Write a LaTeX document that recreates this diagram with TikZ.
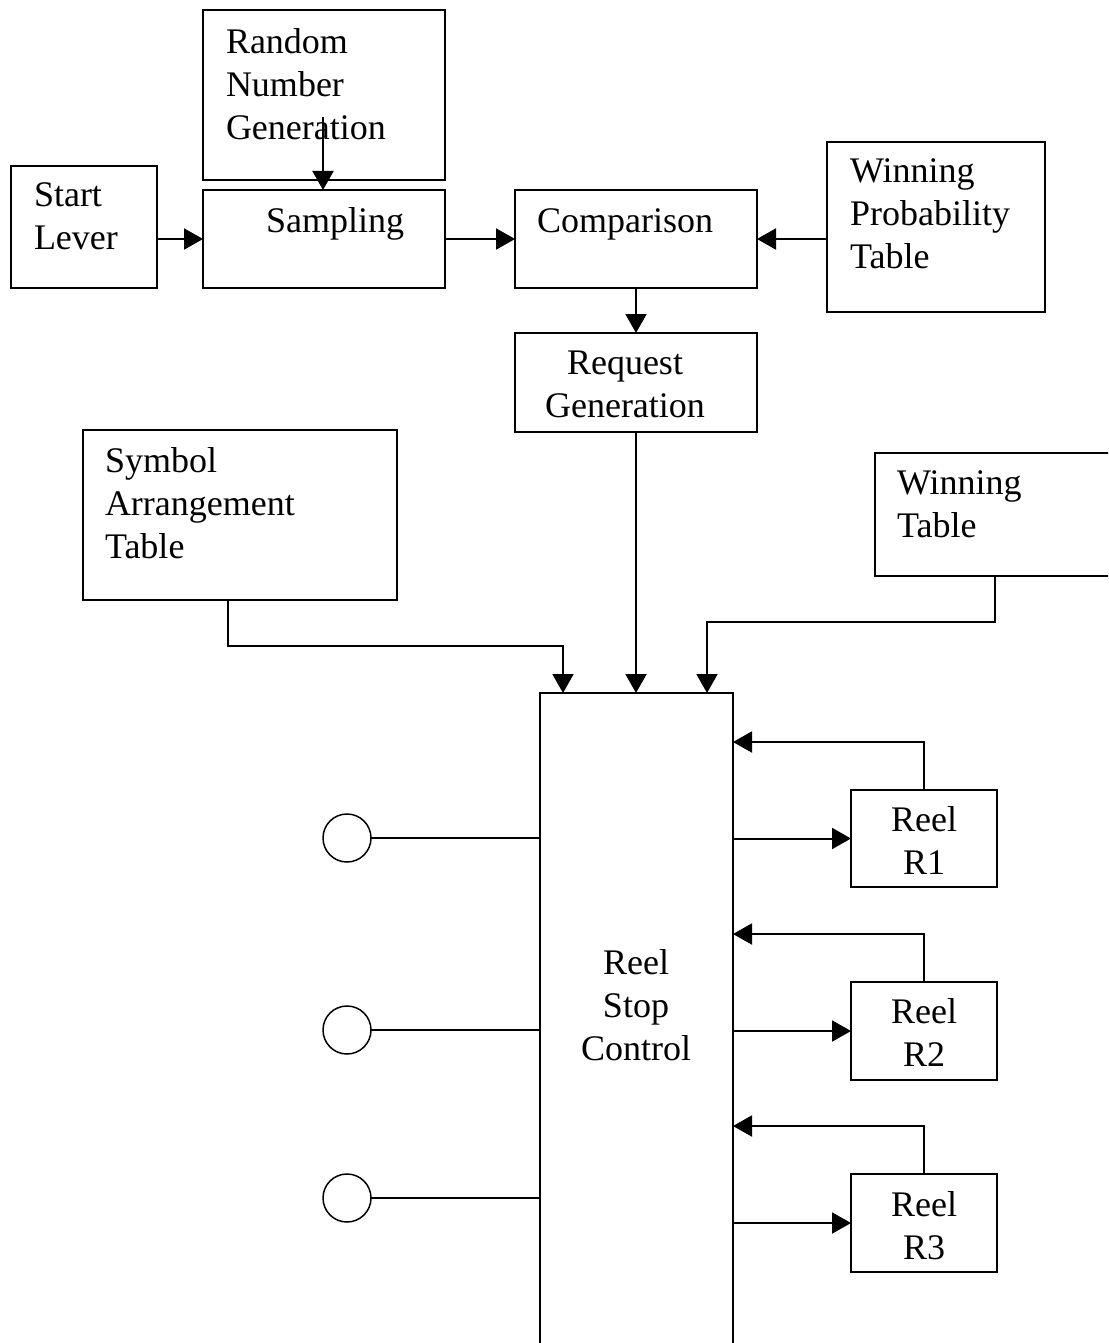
\documentclass[tikz,border=0pt]{standalone}
\usepackage{fontspec}
\setmainfont{Liberation Serif}
\usetikzlibrary{arrows.meta}
\begin{document}
\begin{tikzpicture}[x=1pt,y=-1pt,
  box/.style={draw,line width=2pt,inner sep=0pt,outer sep=0pt,rectangle},
  lbl/.style={inner sep=0pt,outer sep=0pt,font=\fontsize{36}{43}\selectfont,align=left,anchor=north west},
  clbl/.style={lbl,align=center,anchor=north},
  arr/.style={line width=2pt,-{Triangle[length=19pt,width=21pt]}},
  ln/.style={line width=2pt},
  knob/.style={draw,circle,line width=1.5pt,minimum size=48pt,inner sep=0pt,outer sep=0pt}]
\useasboundingbox (0,0) rectangle (1108,1343);
\clip (0,0) rectangle (1108,1343);
% boxes
\node[box,minimum width=242pt,minimum height=170pt] (rng) at (324,95) {};
\node[box,minimum width=242pt,minimum height=98pt] (samp) at (324,239) {};
\node[box,minimum width=146pt,minimum height=122pt] (start) at (84,227) {};
\node[box,minimum width=242pt,minimum height=98pt] (comp) at (636,239) {};
\node[box,minimum width=218pt,minimum height=170pt] (wpt) at (936,227) {};
\node[box,minimum width=242pt,minimum height=99pt] (req) at (636,382.5) {};
\node[box,minimum width=314pt,minimum height=170pt] (sym) at (240,515) {};
\node[box,minimum width=255pt,minimum height=123pt] (wt) at (1002.5,514.5) {};
\node[box,minimum width=193pt,minimum height=667pt] (rsc) at (636.5,1026.5) {};
\node[box,minimum width=146pt,minimum height=97pt] (r1) at (924,838.5) {};
\node[box,minimum width=146pt,minimum height=98pt] (r2) at (924,1031) {};
\node[box,minimum width=146pt,minimum height=98pt] (r3) at (924,1223) {};
\node[knob] (c1) at (347,838) {};
\node[knob] (c2) at (347,1030) {};
\node[knob] (c3) at (347,1198) {};
% texts
\node[lbl] (rngt) at (226,29) {Random\\Number\\Generation};
\node[lbl] (startt) at (34,183) {Start\\Lever};
\node[lbl] (sampt) at (266,208) {Sampling};
\node[lbl] (compt) at (537,209) {Comparison};
\node[lbl] (wptt) at (850,159) {Winning\\Probability\\Table};
\node[clbl] (reqt) at (625,351) {Request\\Generation};
\node[lbl] (symt) at (105,448) {Symbol\\Arrangement\\Table};
\node[lbl] (wtt) at (897,471) {Winning\\Table};
\node[clbl] (rsct) at (636,950) {Reel\\Stop\\Control};
\node[clbl] (r1t) at (924,807) {Reel\\R1};
\node[clbl] (r2t) at (924,999) {Reel\\R2};
\node[clbl] (r3t) at (924,1192) {Reel\\R3};
% connector points
\coordinate (rngout) at (323,117);
\coordinate (symout) at (228,0);
\coordinate (in1) at (563,0);
\coordinate (wtout) at (995,0);
\coordinate (in3) at (707,0);
\coordinate (fb1) at (0,742);
\coordinate (fb2) at (0,934);
\coordinate (fb3) at (0,1126);
% connectors
\draw[arr] (rngout) -- (samp.north -| rngout);
\draw[arr] (start.east |- samp) -- (samp.west);
\draw[arr] (samp.east) -- (comp.west);
\draw[arr] (wpt.west |- comp) -- (comp.east);
\draw[arr] (comp.south) -- (req.north);
\draw[arr] (req.south) -- (rsc.north -| req.south);
\draw[arr] (sym.south -| symout) -- ++(0,46) -| (rsc.north -| in1);
\draw[arr] (wt.south -| wtout) -- ++(0,46) -| (rsc.north -| in3);
\draw[arr] (r1.north) |- (rsc.east |- fb1);
\draw[arr] (r2.north) |- (rsc.east |- fb2);
\draw[arr] (r3.north) |- (rsc.east |- fb3);
\draw[arr] (rsc.east |- r1) -- (r1.west);
\draw[arr] (rsc.east |- r2) -- (r2.west);
\draw[arr] (rsc.east |- r3) -- (r3.west);
\draw[ln] (c1.east) -- (rsc.west |- c1);
\draw[ln] (c2.east) -- (rsc.west |- c2);
\draw[ln] (c3.east) -- (rsc.west |- c3);
\end{tikzpicture}
\end{document}
